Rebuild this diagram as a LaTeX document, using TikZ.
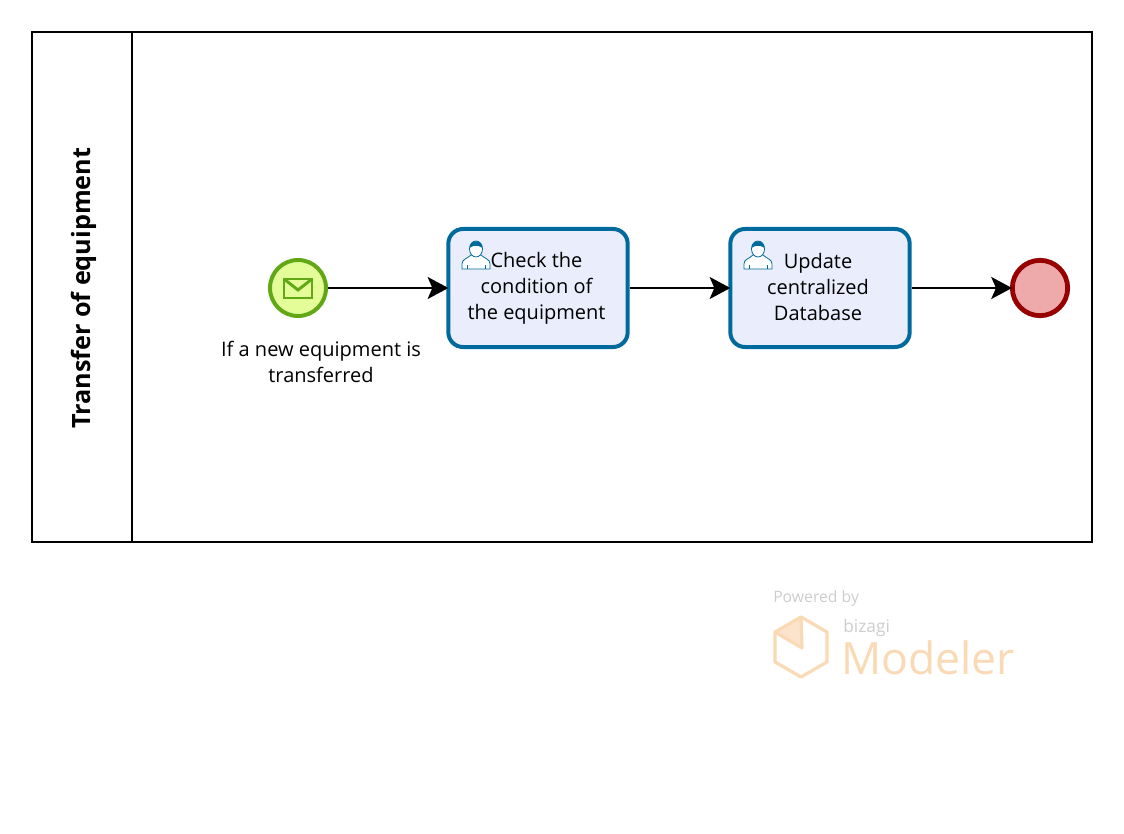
\documentclass[tikz,border=0pt]{standalone}
\usepackage{fontspec}
\setmainfont{Open Sans}
\usetikzlibrary{positioning,arrows.meta}
\definecolor{startline}{RGB}{98,168,22}
\definecolor{startfill}{RGB}{228,253,153}
\definecolor{taskline}{RGB}{0,106,156}
\definecolor{taskfill}{RGB}{234,238,252}
\definecolor{endline}{RGB}{150,0,0}
\definecolor{endfill}{RGB}{238,170,170}
\definecolor{logoorange}{RGB}{250,217,181}
\definecolor{logogray}{RGB}{205,205,205}
\tikzstyle{lanebox} = [rectangle, draw=black, line width=1.5pt, inner sep=0pt]
\tikzstyle{startevent} = [circle, draw=startline, fill=startfill, line width=3pt, minimum size=42pt, inner sep=0pt]
\tikzstyle{endevent} = [circle, draw=endline, fill=endfill, line width=3.6pt, minimum size=41.5pt, inner sep=0pt]
\tikzstyle{usertask} = [rectangle, rounded corners=11pt, draw=taskline, fill=taskfill, line width=3pt, minimum width=134.5pt, minimum height=88.5pt, inner sep=0pt]
\tikzstyle{tasktext} = [align=center, font=\fontsize{15}{19.5}\selectfont, text=black]
\tikzstyle{arrow} = [line width=1.5pt, shorten >=-1.5pt, -{Stealth[length=15.5pt,width=16.5pt,inset=3.5pt]}]
\tikzstyle{iconline} = [draw=taskline, line width=0.6pt, fill=white]
\tikzstyle{logoline} = [draw=logoorange, line width=2.4pt, line join=round]
% user icon, centre of the head at #1
\newcommand{\usericon}[1]{
  \begin{scope}[shift={(#1)}]
    \draw [iconline] (-14,20) -- (-14,15) .. controls (-14,10) and (-9,10) .. (-5,6) -- (5,6) .. controls (9,10) and (14,10) .. (14,15) -- (14,20) -- cycle;
    \draw [iconline] (-9,20) -- (-9,16) (9,20) -- (9,16);
    \draw [iconline] (0,0) ellipse (6.5 and 8);
    \fill [taskline] (-6.5,-1) .. controls (-6.5,-10) and (6.5,-10) .. (6.5,-1) .. controls (3,-4) and (-3,-4) .. (-6.5,-1) -- cycle;
  \end{scope}
}
\begin{document}
\begin{tikzpicture}[x=0.75pt, y=-0.75pt]
\useasboundingbox (0,0) rectangle (1124,834);

\node (lane) [lanebox, minimum width=795pt, minimum height=382.5pt] at (562,287) {};
\node (header) [lanebox, anchor=west, minimum width=75pt, minimum height=382.5pt] at (lane.west) {};
\node (lanetitle) [rotate=90, font=\fontsize{18.9}{22}\selectfont\bfseries, xshift=-1pt, yshift=-1.5pt] at (header.center) {Transfer of equipment};

\node (start) [startevent] at (298,288) {};
\node (task1) [usertask] at (538,288) {};
\node (task2) [usertask] at (820,288) {};
\node (end) [endevent] at (1040,288) {};

\node (task1text) [tasktext] at (536.5,288) {Check the\\condition of\\the equipment};
\node (task2text) [tasktext] at (818,287) {Update\\centralized\\Database};
\node (startlabel) [tasktext] at (321,362) {If a new equipment is\\transferred};

\usericon{476,249}
\usericon{758,249}

% envelope
\draw [draw=startline, line width=2.2pt] (284,279) rectangle (312,298);
\draw [draw=startline, line width=2.2pt] (284,279) -- (298,290) -- (312,279);

\draw [arrow] (start) -- (task1);
\draw [arrow] (task1) -- (task2);
\draw [arrow] (task2) -- (end);

% logo
\node (powered) [anchor=west, inner sep=0pt, text=logogray, font=\fontsize{11.8}{14}\selectfont] at (773,598) {Powered by};
\node (bizagi) [anchor=west, inner sep=0pt, text=logogray, font=\fontsize{13}{14}\selectfont] at (843,628) {bizagi};
\node (modeler) [anchor=west, inner sep=0pt, text=logoorange, font=\fontsize{33.4}{36}\selectfont] at (841,658) {Modeler};
\fill [logoorange!70] (777,632) -- (801,618) -- (802,646) -- cycle;
\draw [logoline] (801,617) -- (827,632) -- (827,662) -- (801,677) -- (775,662) -- (775,632) -- cycle;
\draw [logoline] (775,632) -- (802,648) -- (801,617);

\end{tikzpicture}
\end{document}
